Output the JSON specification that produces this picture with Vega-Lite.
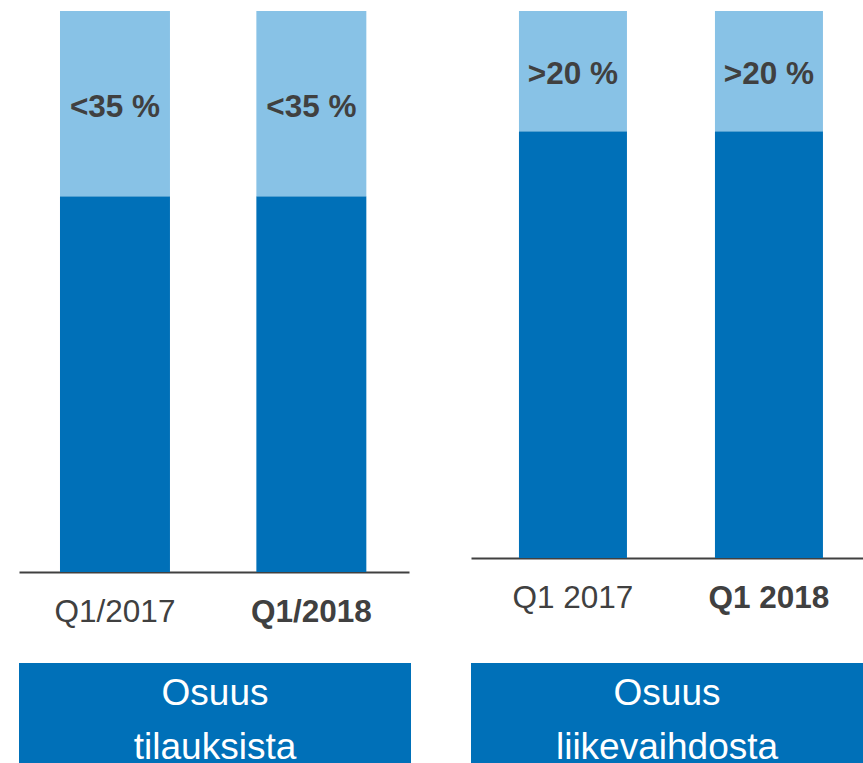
{
  "$schema": "https://vega.github.io/schema/vega-lite/v6.json",
  "padding": {"left": 19, "top": 11, "right": 0, "bottom": 0},
  "background": "white",
  "bounds": "flush",
  "columns": 2,
  "spacing": {"row": 91, "column": 60},
  "config": {
    "view": {"stroke": null},
    "font": "Liberation Sans",
    "axisX": {
      "title": null,
      "ticks": false,
      "labelAngle": 0,
      "labelFont": "Liberation Sans",
      "labelFontSize": 31.5,
      "labelColor": "#404040",
      "labelPadding": 24,
      "domainColor": "#404040",
      "domainWidth": 2,
      "grid": false
    }
  },
  "datasets": {
    "orders": [
      {"q": "Q1/2017", "part": "base", "ord": 1, "value": 67, "label": ""},
      {"q": "Q1/2017", "part": "share", "ord": 2, "value": 33, "label": "<35 %"},
      {"q": "Q1/2018", "part": "base", "ord": 1, "value": 67, "label": ""},
      {"q": "Q1/2018", "part": "share", "ord": 2, "value": 33, "label": "<35 %"}
    ],
    "sales": [
      {"q": "Q1 2017", "part": "base", "ord": 1, "value": 78, "label": ""},
      {"q": "Q1 2017", "part": "share", "ord": 2, "value": 22, "label": ">20 %"},
      {"q": "Q1 2018", "part": "base", "ord": 1, "value": 78, "label": ""},
      {"q": "Q1 2018", "part": "share", "ord": 2, "value": 22, "label": ">20 %"}
    ]
  },
  "concat": [
    {
      "width": 390,
      "height": 561,
      "data": {"name": "orders"},
      "transform": [
        {"stack": "value", "groupby": ["q"], "sort": [{"field": "ord"}], "as": ["v0", "v1"]},
        {"calculate": "(datum.v0 + datum.v1) / 2", "as": "mid"}
      ],
      "encoding": {
        "x": {
          "field": "q", "type": "nominal", "sort": null,
          "scale": {"paddingInner": 0.44, "paddingOuter": 0.213, "align": 0.49},
          "axis": {
            "labelFontWeight": {"condition": {"test": "datum.value == 'Q1/2018'", "value": "bold"}, "value": "normal"}
          }
        }
      },
      "layer": [
        {
          "mark": {"type": "bar"},
          "encoding": {
            "y": {"field": "v0", "type": "quantitative", "scale": {"domain": [0, 100], "nice": false}, "axis": null},
            "y2": {"field": "v1"},
            "color": {"field": "part", "type": "nominal", "scale": {"domain": ["base", "share"], "range": ["#0070B8", "#88C2E6"]}, "legend": null}
          }
        },
        {
          "transform": [{"filter": "datum.part == 'share'"}],
          "mark": {"type": "text", "font": "Liberation Sans", "fontSize": 31.5, "fontWeight": "bold", "color": "#404040", "baseline": "middle", "dy": 4},
          "encoding": {
            "y": {"field": "mid", "type": "quantitative", "scale": {"domain": [0, 100], "nice": false}, "axis": null},
            "text": {"field": "label"}
          }
        }
      ]
    },
    {
      "width": 392,
      "height": 547,
      "data": {"name": "sales"},
      "transform": [
        {"stack": "value", "groupby": ["q"], "sort": [{"field": "ord"}], "as": ["v0", "v1"]},
        {"calculate": "(datum.v0 + datum.v1) / 2", "as": "mid"}
      ],
      "encoding": {
        "x": {
          "field": "q", "type": "nominal", "sort": null,
          "scale": {"paddingInner": 0.449, "paddingOuter": 0.2245, "align": 0.545},
          "axis": {
            "labelFontWeight": {"condition": {"test": "datum.value == 'Q1 2018'", "value": "bold"}, "value": "normal"}
          }
        }
      },
      "layer": [
        {
          "mark": {"type": "bar"},
          "encoding": {
            "y": {"field": "v0", "type": "quantitative", "scale": {"domain": [0, 100], "nice": false}, "axis": null},
            "y2": {"field": "v1"},
            "color": {"field": "part", "type": "nominal", "scale": {"domain": ["base", "share"], "range": ["#0070B8", "#88C2E6"]}, "legend": null}
          }
        },
        {
          "transform": [{"filter": "datum.part == 'share'"}],
          "mark": {"type": "text", "font": "Liberation Sans", "fontSize": 31.5, "fontWeight": "bold", "color": "#404040", "baseline": "middle", "dy": 4},
          "encoding": {
            "y": {"field": "mid", "type": "quantitative", "scale": {"domain": [0, 100], "nice": false}, "axis": null},
            "text": {"field": "label"}
          }
        }
      ]
    },
    {
      "width": 392,
      "height": 100,
      "view": {"fill": "#0070B8", "stroke": null},
      "data": {"values": [{"t": ["Osuus", "tilauksista"]}]},
      "mark": {"type": "text", "font": "Liberation Sans", "fontSize": 37, "lineHeight": 54, "color": "white", "baseline": "middle", "align": "center", "dy": -19},
      "encoding": {"text": {"field": "t"}}
    },
    {
      "width": 392,
      "height": 100,
      "view": {"fill": "#0070B8", "stroke": null},
      "data": {"values": [{"t": ["Osuus", "liikevaihdosta"]}]},
      "mark": {"type": "text", "font": "Liberation Sans", "fontSize": 37, "lineHeight": 54, "color": "white", "baseline": "middle", "align": "center", "dy": -19},
      "encoding": {"text": {"field": "t"}}
    }
  ],
  "resolve": {"scale": {"color": "shared"}}
}
